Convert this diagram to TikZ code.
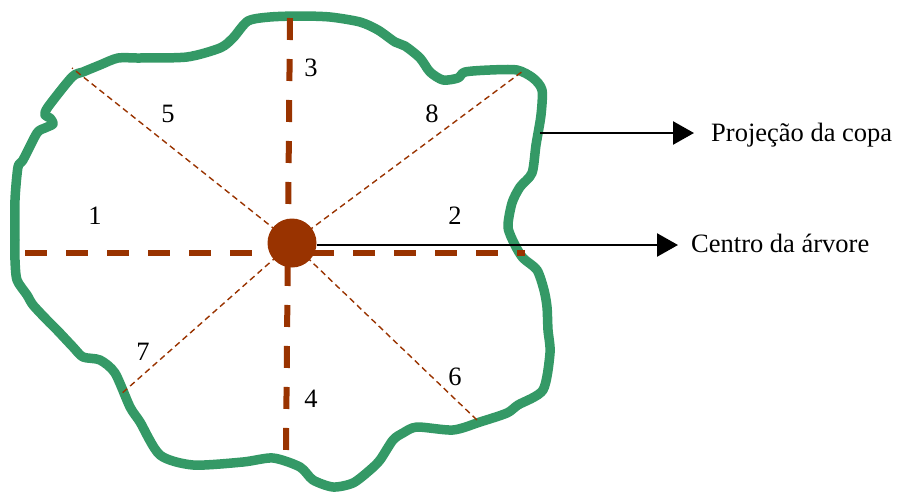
\documentclass[tikz,border=0pt]{standalone}
\usepackage{fontspec}
\setmainfont{Liberation Serif}
\usetikzlibrary{arrows.meta}
\definecolor{crown}{RGB}{52,153,102}
\definecolor{trunk}{RGB}{153,51,0}
\begin{document}
\begin{tikzpicture}[x=1pt,y=-1pt,
  outline/.style={draw=crown,line width=9.5pt,line join=round,line cap=round},
  thickdash/.style={draw=trunk,line width=6pt,dash pattern=on 22pt off 19pt},
  thindash/.style={draw=trunk,line width=1.4pt,dash pattern=on 6pt off 4pt},
  pointer/.style={draw=black,line width=2.5pt,-{Triangle[length=21pt,width=23pt]}},
  lbl/.style={font=\fontsize{26.5}{30}\selectfont,inner sep=0pt},
  callout/.style={font=\fontsize{26.5}{30}\selectfont,inner sep=0pt,anchor=west}]
\useasboundingbox (0,0) rectangle (898,493);
% crown projection outline
\draw[outline] plot[smooth cycle,tension=0.45] coordinates {
(248,21) (270,17) (300,16) (330,17) (360,22) (378,30) (395,42) (405,46) (420,58) (430,72) (443,80) (458,78) (465,72) (490,70) (517,70) (533,78) (542,90) (541,115) (536,145) (532,173) (520,187) (512,203) (508,227) (515,245) (523,258) (537,270) (544,290) (547,307) (548,330) (550,353) (543,390) (518,405) (507,413) (480,422) (453,430) (417,427) (403,433) (393,440) (380,460) (370,470) (353,483) (333,487) (313,480) (300,467) (273,458) (243,462) (193,465) (160,455) (140,422) (130,407) (115,373) (100,360) (83,357) (73,347) (57,330) (47,320) (33,305) (27,295) (17,280) (15,260) (15,240) (15,200) (18,167) (23,160) (37,133) (45,128) (53,124) (50,118) (45,115) (48,107) (72,77) (83,72) (100,65) (118,58) (140,58) (187,57) (220,48) (233,38)};
% spoke ends
\coordinate (cc) at (292,243);
\coordinate (w) at (25,253);
\coordinate (e) at (525,253);
\coordinate (n) at (290,18);
\coordinate (s) at (286,450);
\coordinate (nw) at (72,68);
\coordinate (ne) at (523,71);
\coordinate (sw) at (120,395);
\coordinate (se) at (478,421);
\coordinate (pc) at (540,133);
% spokes
\draw[thickdash] (w) -- (e);
\draw[thickdash] (n) -- (s);
\draw[thindash] (cc) -- (nw);
\draw[thindash] (cc) -- (ne);
\draw[thindash] (cc) -- (sw);
\draw[thindash] (cc) -- (se);
% trunk
\node[circle,fill=trunk,minimum size=49pt,inner sep=0pt] (c) at (cc) {};
% labels
\node[lbl] (l1) at (95,216) {1};
\node[lbl] (l2) at (455,216) {2};
\node[lbl] (l3) at (311,68) {3};
\node[lbl] (l4) at (311,399) {4};
\node[lbl] (l5) at (168,114) {5};
\node[lbl] (l6) at (455,377) {6};
\node[lbl] (l7) at (143,352) {7};
\node[lbl] (l8) at (432,114) {8};
% callouts
\node[callout] (proj) at (711,135) {Projeção da copa};
\node[callout] (cent) at (691,243) {Centro da árvore};
\draw[pointer] (pc) -- ([xshift=-17pt]proj.west |- pc);
\draw[pointer] ([yshift=-2pt]c.east) -- ([xshift=-13pt,yshift=-2pt]cent.west);
\end{tikzpicture}
\end{document}
